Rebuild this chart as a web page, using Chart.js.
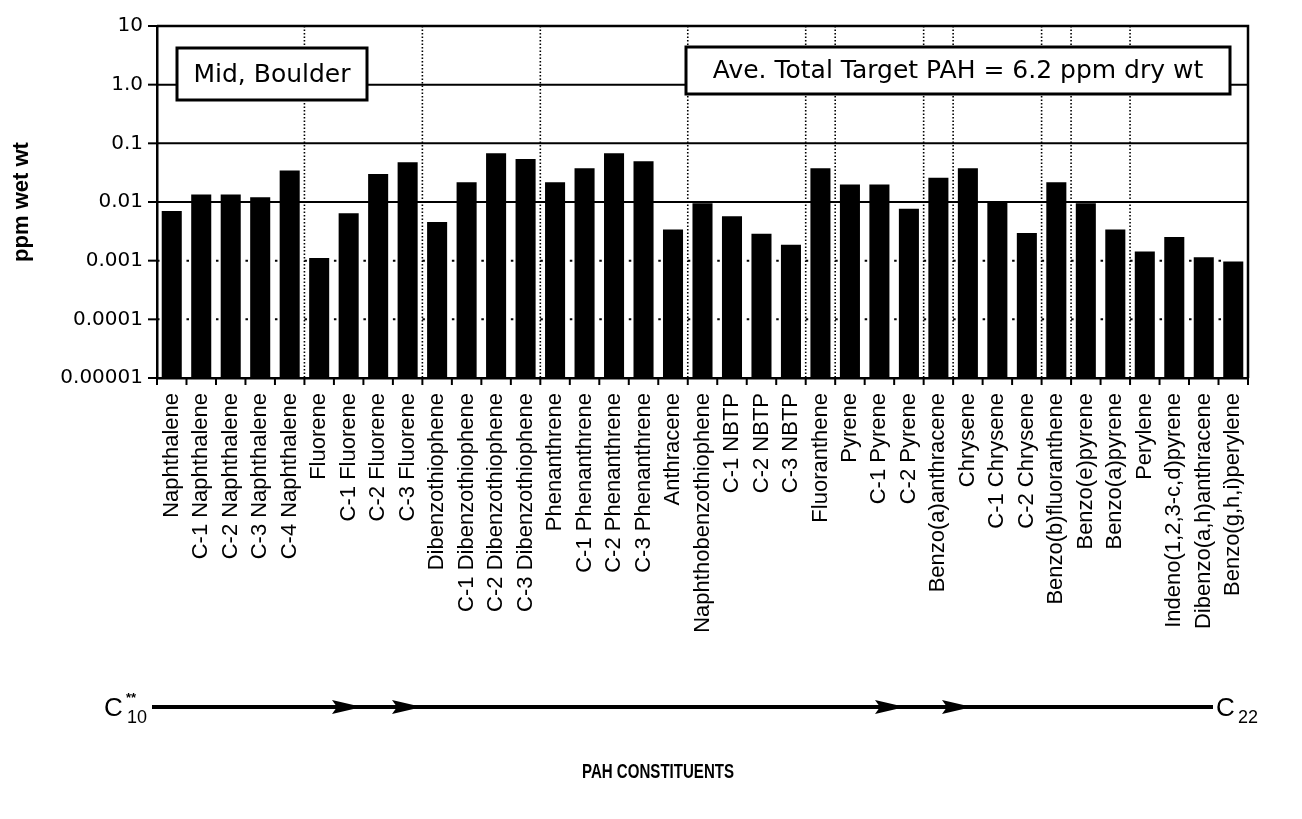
<!DOCTYPE html>
<html>
<head>
<meta charset="utf-8">
<script src="https://cdn.jsdelivr.net/npm/chart.js@4.4.0/dist/chart.umd.min.js"></script>
<style>
  body { margin: 0; background: #fff; }
</style>
</head>
<body>
<canvas id="grafica" width="1302" height="819" style="display:block;width:1302px;height:819px"></canvas>
<script>
// Compuestos PAH, ordenados de C10 a C22
var compuestos = [
    'Naphthalene', 'C-1 Naphthalene', 'C-2 Naphthalene', 'C-3 Naphthalene', 'C-4 Naphthalene',
    'Fluorene', 'C-1 Fluorene', 'C-2 Fluorene', 'C-3 Fluorene',
    'Dibenzothiophene', 'C-1 Dibenzothiophene', 'C-2 Dibenzothiophene', 'C-3 Dibenzothiophene',
    'Phenanthrene', 'C-1 Phenanthrene', 'C-2 Phenanthrene', 'C-3 Phenanthrene',
    'Anthracene', 'Naphthobenzothiophene', 'C-1 NBTP', 'C-2 NBTP', 'C-3 NBTP',
    'Fluoranthene', 'Pyrene', 'C-1 Pyrene', 'C-2 Pyrene',
    'Benzo(a)anthracene', 'Chrysene', 'C-1 Chrysene', 'C-2 Chrysene',
    'Benzo(b)fluoranthene', 'Benzo(e)pyrene', 'Benzo(a)pyrene', 'Perylene',
    'Indeno(1,2,3-c,d)pyrene', 'Dibenzo(a,h)anthracene', 'Benzo(g,h,i)perylene'
];

// Concentraciones en ppm (peso húmedo)
var ppmHumedo = [
    0.0070, 0.0134, 0.0134, 0.0121, 0.0343,
    0.00111, 0.00645, 0.0301, 0.0475,
    0.00454, 0.0217, 0.0676, 0.0542,
    0.0217, 0.0376, 0.0676, 0.0494,
    0.0034, 0.0095, 0.00574, 0.00288, 0.00187,
    0.0376, 0.0198, 0.0198, 0.00766,
    0.0258, 0.0376, 0.0098, 0.00295,
    0.0217, 0.0095, 0.0034, 0.00144,
    0.00252, 0.00114, 0.00097
];

// Marcas del eje Y (escala logarítmica)
var ticksY = [0.00001, 0.0001, 0.001, 0.01, 0.1, 1, 10];
var etiquetasY = ['0.00001', '0.0001', '0.001', '0.01', '0.1', '1.0', '10'];

// Índice del primer compuesto de cada grupo (línea punteada vertical)
var separadores = [5, 9, 13, 18, 22, 23, 26, 27, 30, 31, 33];

var fuente = 'Liberation Sans, Arial, sans-serif';
var fuenteAncha = 'DejaVu Sans, sans-serif';

function caja(ctx, x1, y1, x2, y2, texto) {
    ctx.setLineDash([]);
    ctx.fillStyle = '#fff';
    ctx.fillRect(x1, y1, x2 - x1, y2 - y1);
    ctx.lineWidth = 3;
    ctx.strokeStyle = '#000';
    ctx.strokeRect(x1, y1, x2 - x1, y2 - y1);
    ctx.fillStyle = '#000';
    ctx.font = '25px ' + fuenteAncha;
    ctx.textAlign = 'center';
    ctx.textBaseline = 'middle';
    ctx.fillText(texto, (x1 + x2) / 2, (y1 + y2) / 2 + 1);
}

function flecha(ctx, punta, y) {
    ctx.beginPath();
    ctx.moveTo(punta, y);
    ctx.lineTo(punta - 30, y - 7);
    ctx.lineTo(punta - 25, y);
    ctx.lineTo(punta - 30, y + 7);
    ctx.closePath();
    ctx.fill();
}

// Texto centrado y comprimido hasta un ancho dado
function textoAjustado(ctx, texto, cx, y, ancho) {
    var medida = ctx.measureText(texto).width;
    ctx.save();
    ctx.translate(cx, y);
    ctx.scale(Math.min(1, ancho / medida), 1);
    ctx.textAlign = 'center';
    ctx.fillText(texto, 0, 0);
    ctx.restore();
}

// Rejilla, cajas de texto, marcas y flecha C10 -> C22
var decoracion = {
    id: 'decoracion',
    beforeDatasetsDraw: function (chart) {
        var ctx = chart.ctx;
        var area = chart.chartArea;
        var x = chart.scales.x;
        var y = chart.scales.y;
        var anchoCat = (area.right - area.left) / compuestos.length;
        ctx.save();
        ctx.strokeStyle = '#000';

        // líneas horizontales de las décadas
        ticksY.forEach(function (v) {
            if (v >= 10 || v <= 0.00001) return;
            var py = y.getPixelForValue(v);
            ctx.beginPath();
            if (v >= 0.01) {
                ctx.setLineDash([]);
            } else {
                ctx.setLineDash([2.5, anchoCat - 2.5]);
            }
            ctx.lineWidth = 2;
            ctx.moveTo(area.left, py);
            ctx.lineTo(area.right, py);
            ctx.stroke();
        });

        // separadores punteados entre grupos
        ctx.setLineDash([1.5, 2]);
        ctx.lineWidth = 1.6;
        separadores.forEach(function (i) {
            var px = x.getPixelForValue(i - 0.5);
            ctx.beginPath();
            ctx.moveTo(px, area.top);
            ctx.lineTo(px, area.bottom);
            ctx.stroke();
        });

        // cajas de texto
        caja(ctx, area.left + 20, 48, area.left + 210, 100, 'Mid, Boulder');
        caja(ctx, 686, 47, 1230, 94, 'Ave. Total Target PAH = 6.2 ppm dry wt');
        ctx.restore();
    },
    afterDraw: function (chart) {
        var ctx = chart.ctx;
        var area = chart.chartArea;
        var x = chart.scales.x;
        var y = chart.scales.y;
        ctx.save();
        ctx.strokeStyle = '#000';
        ctx.fillStyle = '#000';
        ctx.setLineDash([]);

        // borde superior y derecho
        ctx.lineWidth = 2.5;
        ctx.beginPath();
        ctx.moveTo(area.left, area.top);
        ctx.lineTo(area.right, area.top);
        ctx.lineTo(area.right, area.bottom);
        ctx.stroke();

        // marcas del eje Y
        ctx.lineWidth = 2;
        ticksY.forEach(function (v) {
            var py = y.getPixelForValue(v);
            ctx.beginPath();
            ctx.moveTo(area.left - 9, py);
            ctx.lineTo(area.left, py);
            ctx.stroke();
        });

        // marcas del eje X en los límites de categoría
        for (var i = 0; i <= compuestos.length; i++) {
            var px = x.getPixelForValue(i - 0.5);
            ctx.beginPath();
            ctx.moveTo(px, area.bottom);
            ctx.lineTo(px, area.bottom + 7);
            ctx.stroke();
        }

        // flecha C10 -> C22
        var yf = 707;
        ctx.lineWidth = 4;
        ctx.beginPath();
        ctx.moveTo(152, yf);
        ctx.lineTo(1213, yf);
        ctx.stroke();
        [362, 422, 905, 972].forEach(function (p) { flecha(ctx, p, yf); });

        ctx.textBaseline = 'alphabetic';
        ctx.textAlign = 'left';
        ctx.font = '26px ' + fuente;
        ctx.fillText('C', 104, yf + 9);
        ctx.fillText('C', 1216, yf + 9);
        ctx.font = '18px ' + fuente;
        ctx.fillText('10', 127, yf + 16);
        ctx.fillText('22', 1238, yf + 16);
        ctx.font = 'bold 13px ' + fuente;
        ctx.fillText('**', 126, yf - 5);

        // título del eje X
        ctx.font = 'bold 20px ' + fuente;
        textoAjustado(ctx, 'PAH CONSTITUENTS', 658, 778, 152);
        ctx.restore();
    }
};

var ctx = document.getElementById('grafica').getContext('2d');
var myChart = new Chart(ctx, {
    type: 'bar',
    data: {
        labels: compuestos,
        datasets: [{
            data: ppmHumedo,
            backgroundColor: '#000',
            borderWidth: 0,
            barPercentage: 0.68,
            categoryPercentage: 1
        }]
    },
    options: {
        responsive: false,
        animation: false,
        devicePixelRatio: 1,
        layout: { padding: { top: 25, right: 54, bottom: 0, left: 0 } },
        plugins: {
            legend: { display: false },
            tooltip: { enabled: false }
        },
        scales: {
            x: {
                grid: { display: false, drawTicks: false },
                border: { display: true, color: '#000', width: 2.5 },
                ticks: {
                    autoSkip: false,
                    minRotation: 90,
                    maxRotation: 90,
                    padding: 15,
                    color: '#000',
                    font: { family: fuente, size: 22 }
                },
                afterFit: function (s) { s.height = 441; }
            },
            y: {
                type: 'logarithmic',
                min: 0.00001,
                max: 10,
                grid: { display: false, drawTicks: false },
                border: { display: true, color: '#000', width: 2.5 },
                afterBuildTicks: function (s) {
                    s.ticks = ticksY.map(function (v) { return { value: v }; });
                },
                ticks: {
                    padding: 14,
                    color: '#000',
                    font: { family: fuenteAncha, size: 20 },
                    callback: function (value) {
                        return etiquetasY[ticksY.indexOf(value)];
                    }
                },
                title: {
                    display: true,
                    text: 'ppm wet wt',
                    color: '#000',
                    font: { family: fuente, size: 22, weight: 'bold' },
                    padding: { top: 9, bottom: 4 }
                },
                afterFit: function (s) { s.width = 157; }
            }
        }
    },
    plugins: [decoracion]
});
</script>
</body>
</html>
